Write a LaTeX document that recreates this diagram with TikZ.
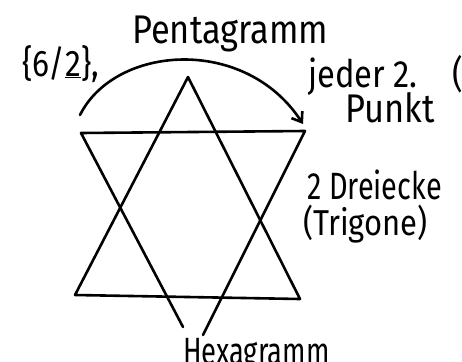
\documentclass[tikz,border=0pt]{standalone}
\usepackage{fontspec}
\setmainfont{Fira Sans}
\newfontfamily\handA[FakeStretch=0.86]{Fira Sans}
\newfontfamily\handB[FakeStretch=0.76]{Fira Sans}
\newfontfamily\handC[FakeStretch=0.72]{Fira Sans}
\usetikzlibrary{arrows.meta}
\begin{document}
\begin{tikzpicture}[x=1pt,y=-1pt,
  stroke/.style={line width=2.6pt, line cap=round, line join=round},
  lbl/.style={inner sep=0pt, anchor=base west}]
\useasboundingbox (0,0) rectangle (462,361);
\fill[white] (0,0) rectangle (462,361);
% upward triangle
\coordinate (A) at (188,77);
\coordinate (BL) at (75,295);
\coordinate (BR) at (300,299);
% downward triangle
\coordinate (TL) at (81,133);
\coordinate (TR) at (305,131);
\coordinate (D1) at (183,327);
\coordinate (D2) at (203,335);
% arc
\coordinate (arcS) at (80,115);
\coordinate (arcE) at (303,124);
\draw[stroke] (A) -- (BL) -- (BR) -- cycle;
\draw[stroke] (D1) -- (TL) -- (TR) -- (D2);
\draw[stroke, -{Straight Barb[length=9pt,width=13pt]}] (arcS) .. controls (115,45) and (245,35) .. (arcE);
% labels
\node[lbl, font=\handA\fontsize{40}{44}\selectfont] (penta) at (132,43) {Pentagramm};
\node[lbl, font=\handA\fontsize{37}{40}\selectfont] (schl) at (22,76) {\{6/\underline{2}\},};
\node[lbl, font=\handA\fontsize{38}{42}\selectfont] (jeder) at (308,87) {jeder 2.\hskip 0.9em(};
\node[lbl, font=\handA\fontsize{40}{44}\selectfont] (punkt) at (345,122) {Punkt};
\node[lbl, font=\handB\fontsize{38}{42}\selectfont] (drei) at (307,199) {2 Dreiecke};
\node[lbl, font=\handA\fontsize{36}{42}\selectfont] (trig) at (303,235) {(Trigone)};
\node[lbl, font=\handC\fontsize{38}{42}\selectfont] (hexa) at (183,364) {Hexagramm};
\end{tikzpicture}
\end{document}
